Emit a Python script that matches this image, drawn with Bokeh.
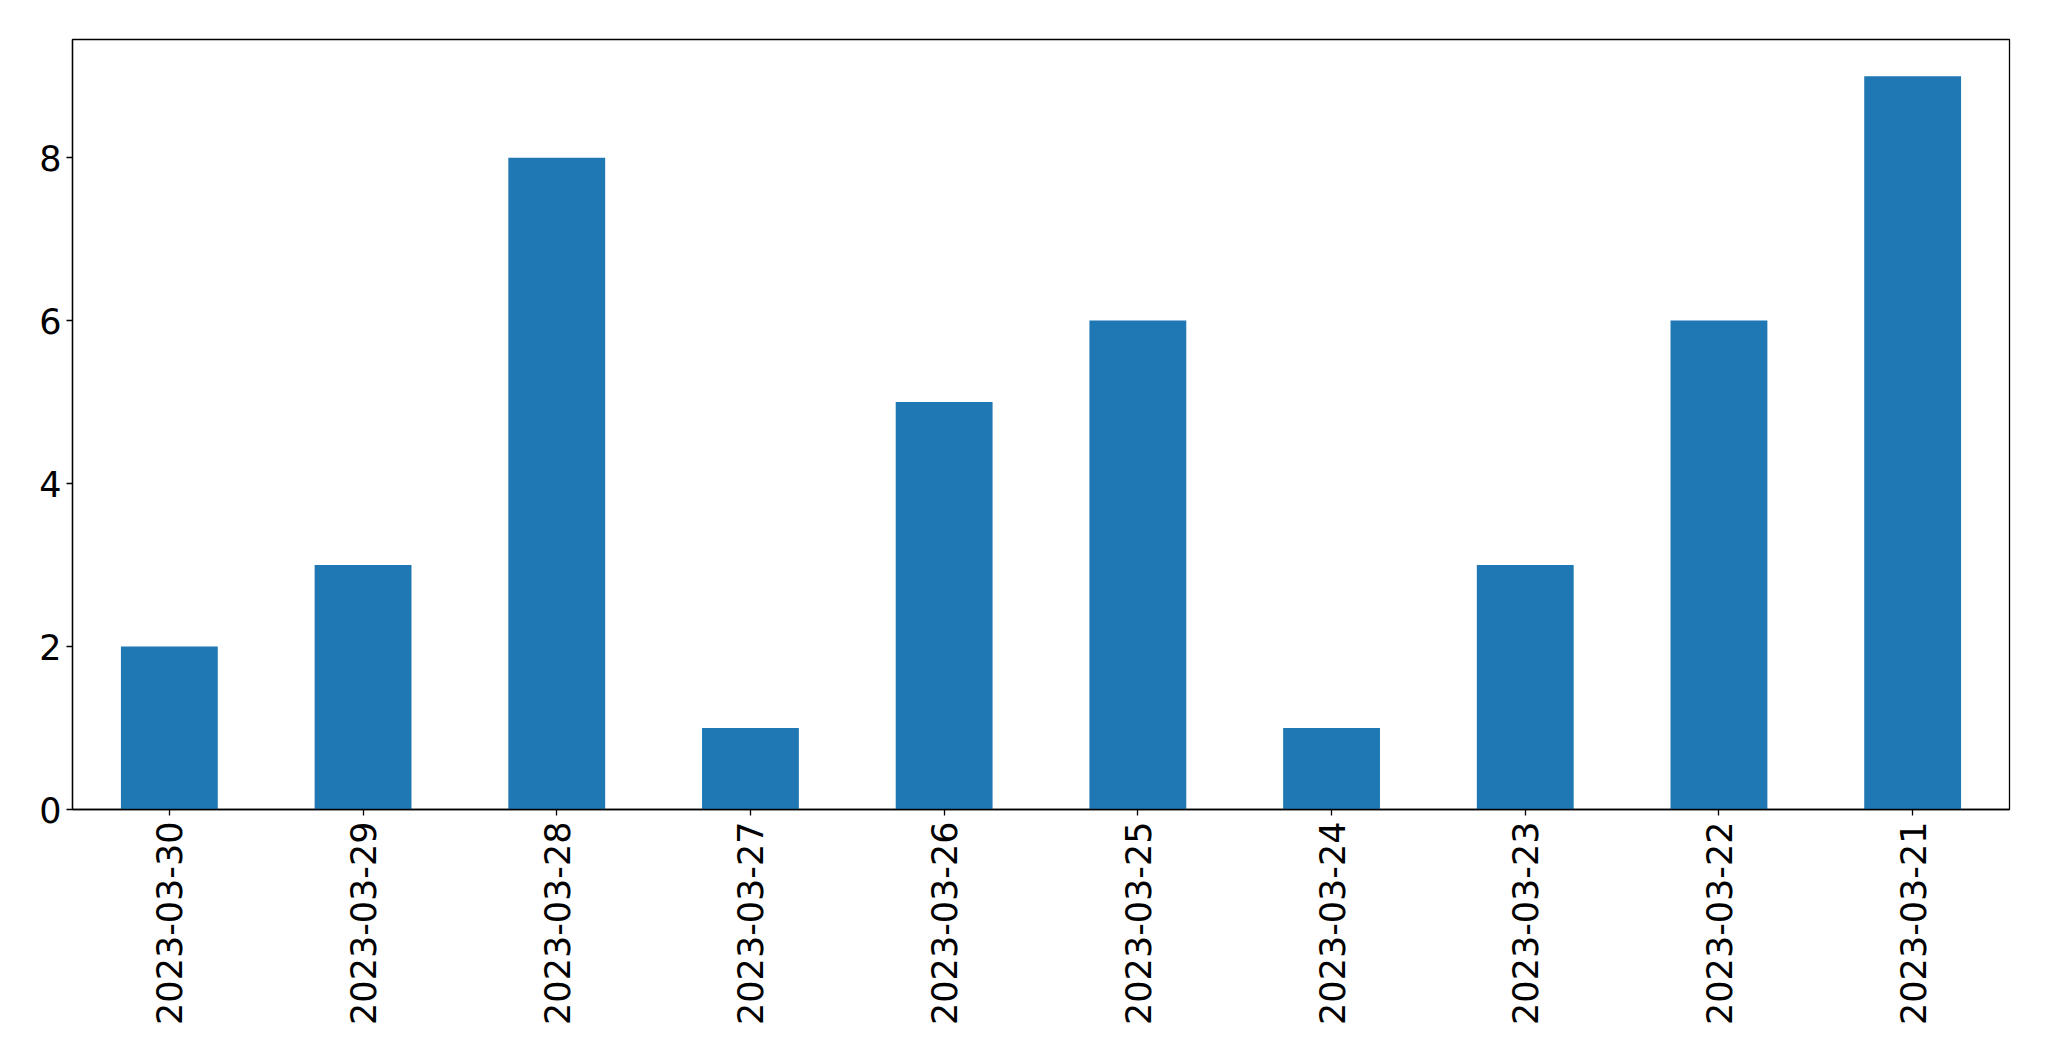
import math
from bokeh.plotting import figure
from bokeh.models import Range1d, FactorRange, FixedTicker, ColumnDataSource
from bokeh.embed import file_html
from bokeh.resources import INLINE

dates = ["2023-03-30", "2023-03-29", "2023-03-28", "2023-03-27", "2023-03-26",
         "2023-03-25", "2023-03-24", "2023-03-23", "2023-03-22", "2023-03-21"]
counts = [2, 3, 8, 1, 5, 6, 1, 3, 6, 9]
y_ticks = [0, 2, 4, 6, 8]

source = ColumnDataSource(data=dict(date=dates, count=counts))

p = figure(
    x_range=FactorRange(factors=dates, range_padding=0),
    y_range=Range1d(0, 9.45),
    output_backend="svg",
    toolbar_location=None,
    frame_width=1937,
    frame_height=770,
    min_border_left=72,
    min_border_top=39,
    min_border_right=24,
    min_border_bottom=220,
    background_fill_color="white",
    border_fill_color="white",
)

p.vbar(x="date", top="count", width=0.5, source=source,
       fill_color="#1f77b4", line_color=None)

p.outline_line_color = "black"
p.outline_line_width = 1.3
p.xgrid.grid_line_color = None
p.ygrid.grid_line_color = None

font = "DejaVu Sans"
for ax in (p.xaxis[0], p.yaxis[0]):
    ax.major_label_text_font = font
    ax.major_label_text_font_size = "35px"
    ax.major_label_text_color = "black"
    ax.major_tick_line_color = "black"
    ax.major_tick_line_width = 1.3
    ax.major_tick_out = 6
    ax.major_tick_in = 0
    ax.minor_tick_line_color = None
    ax.axis_line_color = "black"
    ax.axis_line_width = 1.3

p.yaxis.ticker = FixedTicker(ticks=y_ticks)
p.yaxis.major_label_standoff = 5
p.xaxis.major_label_orientation = math.pi / 2
p.xaxis.major_label_standoff = 6

open("out.html", "w").write(file_html(p, INLINE))
